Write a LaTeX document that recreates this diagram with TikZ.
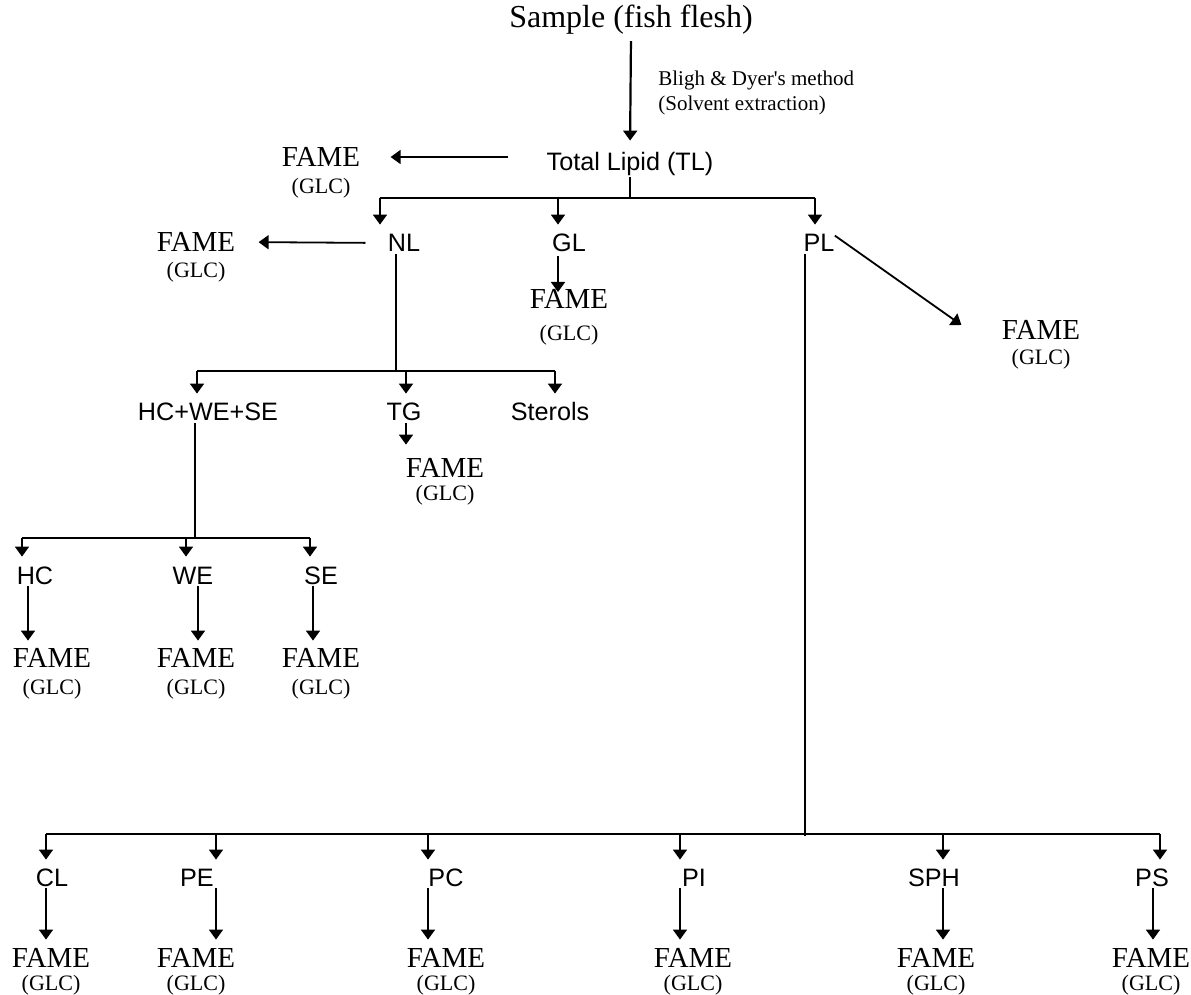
\documentclass[tikz,border=0pt]{standalone}
\usepackage{fontspec}
\setmainfont{Liberation Serif}
\setsansfont{Liberation Sans}
\usetikzlibrary{arrows.meta,positioning}

\tikzset{
  title/.style={font=\fontsize{16}{18}\selectfont, inner sep=1pt},
  note/.style={font=\fontsize{10.5}{12.5}\selectfont, align=left, inner sep=1pt},
  lbl/.style={font=\sffamily\fontsize{12.6}{14}\selectfont, inner sep=1pt, text height=9pt, text depth=0pt},
  fame/.style={font=\fontsize{14.5}{16}\selectfont, inner sep=1pt, text height=10pt, text depth=0pt},
  glc/.style={font=\fontsize{11}{13}\selectfont, inner sep=1pt, text height=8pt, text depth=2.5pt},
  arr/.style={-{Triangle[length=5pt,width=7pt]}, line width=0.9pt},
  ln/.style={line width=0.9pt},
}

\begin{document}
\begin{tikzpicture}[x=0.5pt,y=-0.5pt]
  \useasboundingbox (0,0) rectangle (1191,995);

  % top
  \node[title] (sample) at (631,20) {Sample (fish flesh)};
  \node[lbl] (tl) at (630,162) {Total Lipid (TL)};
  \node[note, anchor=west] (bligh) at (656,93) {Bligh \& Dyer\textquotesingle s method\\(Solvent extraction)};
  \draw[arr, line width=1.1pt, shorten <=2pt, shorten >=5pt] (sample.south) -- (tl.north);

  \node[fame] (ftl) at (321,157) {FAME};
  \node[glc, below=3pt of ftl] (gtl) {(GLC)};
  \draw[arr, shorten <=18pt, shorten >=14pt] (tl.west |- ftl.east) -- (ftl.east);

  % first split
  \coordinate (tlbar) at (630,198);
  \coordinate (dnl) at (380,198);
  \coordinate (dgl) at (558,198);
  \coordinate (dpl) at (815,198);
  \node[lbl] (nl) at (404,243) {NL};
  \node[lbl] (gl) at (569,243) {GL};
  \node[lbl] (pl) at (819,243) {PL};
  \draw[ln, shorten <=2pt] (tl.south) -- (tlbar);
  \draw[ln] (dnl) -- (dpl);
  \draw[arr, shorten >=3.5pt] (dnl) -- (dnl |- nl.north);
  \draw[arr, shorten >=3.5pt] (dgl) -- (dgl |- gl.north);
  \draw[arr, shorten >=3.5pt] (dpl) -- (dpl |- pl.north);

  \node[fame] (fnl) at (196,242) {FAME};
  \node[glc, below=2.5pt of fnl] (gnl) {(GLC)};
  \draw[arr, shorten <=10pt, shorten >=10.5pt] (nl.west) -- (fnl.east);

  \node[fame] (fgl) at (569,298) {FAME};
  \node[glc, below=6pt of fgl] (ggl) {(GLC)};
  \draw[arr, shorten <=1pt] (dgl |- gl.south) -- ([yshift=3pt]dgl |- fgl.center);

  \node[fame] (fpl) at (1041,330) {FAME};
  \node[glc, below=2pt of fpl] (gpl) {(GLC)};
  \draw[arr] ([xshift=-1pt,yshift=-2pt]pl.north east) -- ([xshift=-19pt,yshift=2.5pt]fpl.west);

  % NL split
  \coordinate (nlbar) at (396,371);
  \coordinate (dhws) at (197,371);
  \coordinate (dtg) at (406,371);
  \coordinate (dst) at (555,371);
  \node[lbl] (hws) at (208,412) {HC+WE+SE};
  \node[lbl] (tg) at (404,412) {TG};
  \node[lbl] (st) at (550,412) {Sterols};
  \draw[ln] (nlbar |- nl.south) -- (nlbar);
  \draw[ln] (dhws) -- (dst);
  \draw[arr, shorten >=3.5pt] (dhws) -- (dhws |- hws.north);
  \draw[arr, shorten >=3.5pt] (dtg) -- (dtg |- tg.north);
  \draw[arr, shorten >=3.5pt] (dst) -- (dst |- st.north);

  \node[fame] (ftg) at (445,467) {FAME};
  \node[glc, below=1.5pt of ftg] (gtg) {(GLC)};
  \draw[arr, shorten >=5pt] (dtg |- tg.south) -- (dtg |- ftg.north);

  % HC+WE+SE split
  \coordinate (hwsbar) at (195,538);
  \coordinate (dhc) at (22,538);
  \coordinate (dwe) at (186,538);
  \coordinate (dse) at (310,538);
  \node[lbl] (hc) at (35,575) {HC};
  \node[lbl] (we) at (193,575) {WE};
  \node[lbl] (se) at (321,575) {SE};
  \draw[ln] (hwsbar |- hws.south) -- (hwsbar);
  \draw[ln] (dhc) -- (dse);
  \draw[arr, shorten >=3.5pt] (dhc) -- (dhc |- hc.north);
  \draw[arr, shorten >=3.5pt] (dwe) -- (dwe |- we.north);
  \draw[arr, shorten >=3.5pt] (dse) -- (dse |- se.north);

  \node[fame] (fhc) at (52,657) {FAME};
  \node[glc, below=3.5pt of fhc] (ghc) {(GLC)};
  \node[fame] (fwe) at (196,657) {FAME};
  \node[glc, below=3.5pt of fwe] (gwe) {(GLC)};
  \node[fame] (fse) at (321,657) {FAME};
  \node[glc, below=3.5pt of fse] (gse) {(GLC)};
  \draw[arr, shorten >=2pt] ([xshift=-3.5pt]hc.south) -- ([xshift=-3.5pt]hc.south |- fhc.north);
  \draw[arr, shorten >=2pt] ([xshift=2.5pt]we.south) -- ([xshift=2.5pt]we.south |- fwe.north);
  \draw[arr, shorten >=2pt] ([xshift=-4pt]se.south) -- ([xshift=-4pt]se.south |- fse.north);

  % PL split
  \coordinate (plbar) at (805,834);
  \coordinate (dcl) at (46,834);
  \coordinate (dpe) at (216,834);
  \coordinate (dpc) at (428,834);
  \coordinate (dpi) at (680,834);
  \coordinate (dsph) at (943,834);
  \coordinate (dps) at (1160,834);
  \draw[ln] (plbar |- pl.south) -- ([yshift=-1pt]plbar);
  \draw[ln] (dcl) -- (dps);

  \node[lbl] (cl) at (52,877) {CL};
  \node[lbl] (pe) at (197,877) {PE};
  \node[lbl] (pc) at (446,877) {PC};
  \node[lbl] (pi) at (694,877) {PI};
  \node[lbl] (sph) at (934,877) {SPH};
  \node[lbl] (ps) at (1152,877) {PS};
  \draw[arr, shorten >=3pt] (dcl) -- (dcl |- cl.north);
  \draw[arr, shorten >=3pt] (dpe) -- (dpe |- pe.north);
  \draw[arr, shorten >=3pt] (dpc) -- (dpc |- pc.north);
  \draw[arr, shorten >=3pt] (dpi) -- (dpi |- pi.north);
  \draw[arr, shorten >=3pt] (dsph) -- (dsph |- sph.north);
  \draw[arr, shorten >=3pt] (dps) -- (dps |- ps.north);

  \node[fame] (fcl) at (51,957) {FAME};
  \node[glc, below=1.5pt of fcl] (gcl) {(GLC)};
  \node[fame] (fpe) at (196,957) {FAME};
  \node[glc, below=1.5pt of fpe] (gpe) {(GLC)};
  \node[fame] (fpc) at (446,957) {FAME};
  \node[glc, below=1.5pt of fpc] (gpc) {(GLC)};
  \node[fame] (fpi) at (693,957) {FAME};
  \node[glc, below=1.5pt of fpi] (gpi) {(GLC)};
  \node[fame] (fsph) at (936,957) {FAME};
  \node[glc, below=1.5pt of fsph] (gsph) {(GLC)};
  \node[fame] (fps) at (1151,957) {FAME};
  \node[glc, below=1.5pt of fps] (gps) {(GLC)};
  \draw[arr, shorten >=2.5pt] (dcl |- cl.south) -- (dcl |- fcl.north);
  \draw[arr, shorten >=2.5pt] (dpe |- pe.south) -- (dpe |- fpe.north);
  \draw[arr, shorten >=2.5pt] (dpc |- pc.south) -- (dpc |- fpc.north);
  \draw[arr, shorten >=2.5pt] (dpi |- pi.south) -- (dpi |- fpi.north);
  \draw[arr, shorten >=2.5pt] (dsph |- sph.south) -- (dsph |- fsph.north);
  \draw[arr, shorten >=2.5pt] ([xshift=-3.5pt]dps |- ps.south) -- ([xshift=-3.5pt]dps |- fps.north);
\end{tikzpicture}
\end{document}
